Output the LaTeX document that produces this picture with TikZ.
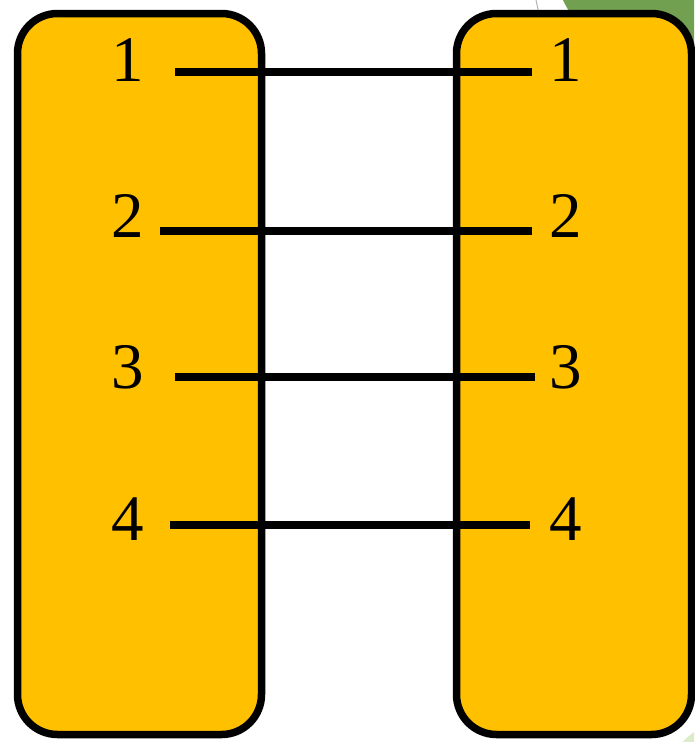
\documentclass[tikz,border=0pt]{standalone}
\usepackage{fontspec}
\setmainfont{Liberation Serif}
\definecolor{ambar}{HTML}{FFC000}
\definecolor{verdeosc}{HTML}{70A050}
\definecolor{verdeclaro}{HTML}{DCEBC8}
\tikzset{
  caja/.style={draw=black,fill=ambar,line width=7.5pt,rounded corners=40pt,minimum width=244pt},
  num/.style={inner sep=0pt,font=\fontsize{65}{70}\selectfont},
  enlace/.style={line width=7.5pt}
}

\begin{document}
\begin{tikzpicture}[x=1pt,y=-1pt]
  \useasboundingbox (0,0) rectangle (694,742);
  % restos del fondo de la diapositiva
  \begin{scope}
    \clip (0,0) rectangle (694,742);
    \fill[verdeosc] (760,-100) circle (221pt);
    \fill[verdeclaro] (760,820) circle (110pt);
    \draw[gray!60,line width=1pt] (536,0)--(539,14);
  \end{scope}
  % los dos conjuntos
  \node[caja,minimum height=721pt] (izq) at (139.5,374) {};
  \node[caja,minimum height=721pt,minimum width=235pt] (der) at (574,374) {};
  % etiquetas y extremos de los enlaces
  \foreach \k/\y/\yl/\xa/\xb in {1/60/72/175/532,2/216/231/160/532,3/367/377/175/535,4/519/525/170/530}{
    \node[num] (a\k) at (128,\y) {\k};
    \node[num] (b\k) at (566,\y) {\k};
    \coordinate (p\k) at (\xa,\yl);
    \coordinate (q\k) at (\xb,\yl);
  }
  \foreach \k in {1,...,4}
    \draw[enlace] (p\k)--(q\k);
\end{tikzpicture}
\end{document}
